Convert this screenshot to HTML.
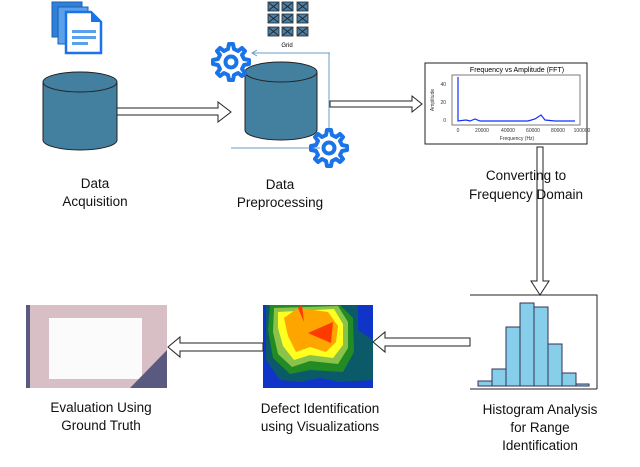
<!DOCTYPE html>
<html><head><meta charset="utf-8"><style>
html,body{margin:0;padding:0;background:#fff;}
svg{display:block;font-family:"Liberation Sans",sans-serif;}
</style></head><body>
<svg width="640" height="467" viewBox="0 0 640 467" xmlns="http://www.w3.org/2000/svg">
<defs>
<g id="gear">
<path d="M0,-18 l4,0 1,5 4,2 4,-3 3,3 -3,4 2,4 5,1 0,4 -5,1 -2,4 3,4 -3,3 -4,-3 -4,2 -1,5 -4,0 -1,-5 -4,-2 -4,3 -3,-3 3,-4 -2,-4 -5,-1 0,-4 5,-1 2,-4 -3,-4 3,-3 4,3 4,-2z" transform="translate(-2,0)" fill="none" stroke="#1a73e8" stroke-width="4" stroke-linejoin="round"/>
<circle cx="0" cy="0" r="5.5" fill="none" stroke="#1a73e8" stroke-width="4"/>
</g>
<g id="gx"><rect width="11" height="9" fill="#4a7fa8" stroke="#222" stroke-width="0.8"/><path d="M1,1 L10,8 M10,1 L1,8" stroke="#222" stroke-width="0.8"/></g>
</defs>
<!-- doc icon -->
<rect x="52" y="2" width="30" height="35" fill="#2f80d8" stroke="#1b5fb0"/>
<rect x="58" y="7" width="30" height="37" fill="#5aa0ea" stroke="#1b5fb0"/>
<path d="M66,12 L91,12 L101,22 L101,53 L66,53 Z" fill="#fff" stroke="#1a73e8" stroke-width="2.5"/>
<path d="M91,12 L91,22 L101,22" fill="#1a73e8"/>
<rect x="72" y="30" width="24" height="3" fill="#5aa0ea"/>
<rect x="72" y="36" width="24" height="3" fill="#5aa0ea"/>
<rect x="72" y="42" width="16" height="3" fill="#5aa0ea"/>
<!-- cylinder 1 -->
<path d="M43,82 L43,140 A37,10 0 0 0 117,140 L117,82" fill="#437f9f" stroke="#222"/>
<ellipse cx="80" cy="82" rx="37" ry="10" fill="#437f9f" stroke="#222"/>
<!-- arrow 1 -->
<path d="M117,108 L218,108 L218,102 L231,112 L218,122 L218,115 L117,115Z" fill="#fff" stroke="#222"/>
<!-- grid -->
<use href="#gx" x="268" y="2"/><use href="#gx" x="282" y="2"/><use href="#gx" x="297" y="2"/>
<use href="#gx" x="268" y="14"/><use href="#gx" x="282" y="14"/><use href="#gx" x="297" y="14"/>
<use href="#gx" x="268" y="27"/><use href="#gx" x="282" y="27"/><use href="#gx" x="297" y="27"/>
<text x="287" y="47" font-size="6" text-anchor="middle">Grid</text>
<path d="M330,53 L253,53 M329,53 L329,130" stroke="#6a9cc8" stroke-width="1" fill="none"/>
<path d="M257,50 L252,53 L257,56" stroke="#6a9cc8" fill="none"/>
<!-- cylinder 2 -->
<path d="M245,72 L245,130 A36,10 0 0 0 317,130 L317,72" fill="#437f9f" stroke="#222"/>
<ellipse cx="281" cy="72" rx="36" ry="10" fill="#437f9f" stroke="#222"/>
<path d="M231,148 L320,148" stroke="#6a9cc8"/>
<use href="#gear" x="231" y="62"/>
<use href="#gear" x="329" y="148"/>
<!-- arrow 2 -->
<path d="M330,101 L412,101 L412,96 L422,104 L412,112 L412,107 L330,107Z" fill="#fff" stroke="#222"/>
<!-- FFT chart -->
<rect x="425" y="63" width="162" height="81" fill="#fff" stroke="#222"/>
<text x="517" y="72" font-size="7" text-anchor="middle">Frequency vs Amplitude (FFT)</text>
<rect x="452" y="75" width="128" height="50" fill="#fff" stroke="#444" stroke-width="0.7"/>
<polyline points="458,77 458,121 466,120 470,121 475,119 480,121 528,121 535,119 541,115 545,120 555,121 575,121" fill="none" stroke="#1030ff" stroke-width="1.2"/>
<g font-size="5" fill="#333"><text x="446" y="86" text-anchor="end">40</text><text x="446" y="104" text-anchor="end">20</text><text x="446" y="122" text-anchor="end">0</text>
<text x="458" y="132" text-anchor="middle">0</text><text x="482" y="132" text-anchor="middle">20000</text><text x="508" y="132" text-anchor="middle">40000</text><text x="533" y="132" text-anchor="middle">60000</text><text x="558" y="132" text-anchor="middle">80000</text><text x="582" y="132" text-anchor="middle">100000</text>
<text x="517" y="140" text-anchor="middle">Frequency (Hz)</text>
<text x="0" y="0" transform="translate(434,100) rotate(-90)" text-anchor="middle">Amplitude</text></g>
<!-- down arrow -->
<path d="M537,147 L537,281 L531,281 L540,295 L549,281 L543,281 L543,147Z" fill="#fff" stroke="#222"/>
<!-- histogram -->
<path d="M470,295 L597,295 L597,389 M470,389 L597,389" stroke="#222" fill="none"/>
<g fill="#87ceeb" stroke="#335">
<rect x="478" y="381" width="14" height="5"/><rect x="492" y="369" width="14" height="17"/><rect x="506" y="327" width="14" height="59"/><rect x="520" y="303" width="14" height="83"/><rect x="534" y="307" width="14" height="79"/><rect x="548" y="344" width="14" height="42"/><rect x="562" y="373" width="14" height="13"/><rect x="576" y="384" width="13" height="2"/></g>
<!-- arrow from histogram -->
<path d="M470,338 L385,338 L385,332 L373,342 L385,352 L385,346 L470,346Z" fill="#fff" stroke="#222"/>
<!-- heatmap -->
<rect x="263" y="305" width="110" height="83" fill="#1034c8"/>
<path d="M266,305 L358,305 L358,330 L373,340 L373,380 L340,382 L320,378 L300,382 L280,380 L266,360Z" fill="#0a5a6a"/>
<path d="M270,305 L340,305 L353,318 L354,352 L343,372 L310,370 L290,374 L273,358 L268,330Z" fill="#228b22"/>
<path d="M274,308 L338,306 L348,322 L348,348 L338,364 L310,361 L292,367 L278,354 L273,332Z" fill="#8bc34a"/>
<path d="M278,312 L334,309 L343,324 L343,345 L333,358 L310,355 L294,360 L283,346 L278,328Z" fill="#ffff20"/>
<path d="M284,318 L298,308 L328,312 L338,326 L336,342 L326,352 L310,347 L296,352 L288,336Z" fill="#ffa500"/>
<path d="M308,333 L333,322 L331,343Z" fill="#ff3a00"/>
<path d="M298,308 L302,305 L304,322Z" fill="#ff3a00"/>
<!-- arrow from heatmap -->
<path d="M263,343 L180,343 L180,337 L168,347 L180,357 L180,351 L263,351Z" fill="#fff" stroke="#222"/>
<!-- eval image -->
<rect x="26" y="305" width="141" height="83" fill="#d8bfc6"/>
<rect x="26" y="305" width="4" height="83" fill="#5a5a80"/>
<rect x="49" y="318" width="93" height="61" fill="#fbfbfb"/>
<path d="M167,350 L167,388 L130,388Z" fill="#5a5a80"/>
<!-- labels -->
<g font-size="13.5" fill="#111" text-anchor="middle">
<text x="95" y="188">Data</text><text x="95" y="206">Acquisition</text>
<text x="280" y="189">Data</text><text x="280" y="207">Preprocessing</text>
<text x="526" y="180">Converting to</text><text x="526" y="199">Frequency Domain</text>
<text x="101" y="412">Evaluation Using</text><text x="101" y="430">Ground Truth</text>
<text x="320" y="413">Defect Identification</text><text x="320" y="431">using Visualizations</text>
<text x="540" y="414">Histogram Analysis</text><text x="540" y="432">for Range</text><text x="540" y="450">Identification</text>
</g>
</svg>
</body></html>
